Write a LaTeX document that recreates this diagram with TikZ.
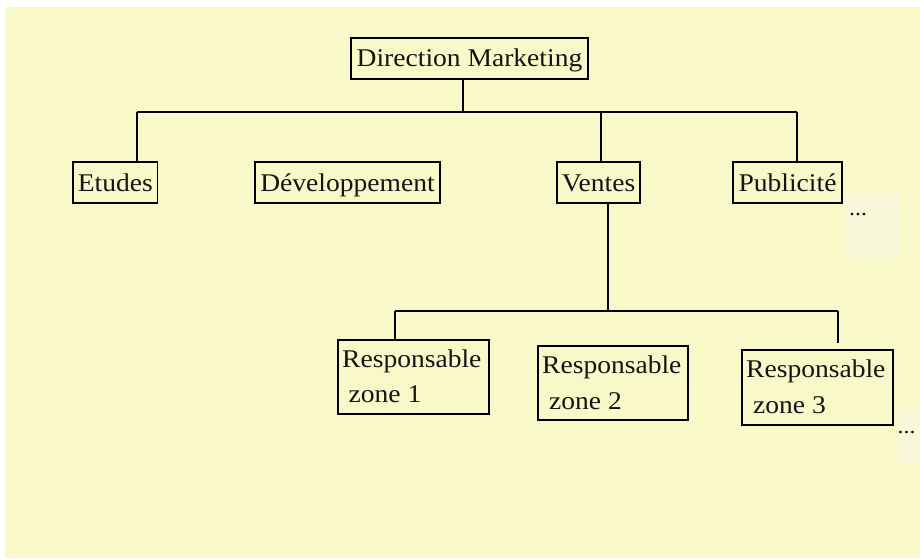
\documentclass[tikz,border=0pt]{standalone}
\usepackage{fontspec}
\setmainfont{Liberation Serif}[FakeStretch=1.08]
\usetikzlibrary{calc}
\definecolor{paper}{HTML}{F9F8C8}
\definecolor{patch}{HTML}{F7F7DA}
\definecolor{ink}{HTML}{141414}
\tikzset{
  unit/.style={draw=black, line width=1.8pt, inner sep=0pt, fill=none,
    text=ink, font=\fontsize{25.5}{30}\selectfont,
    text height=20pt, text depth=3pt},
  caption/.style={inner sep=0pt, text=ink, font=\fontsize{25.5}{30}\selectfont},
  etc/.style={inner sep=0pt, text=ink, font=\fontsize{22}{24}\selectfont},
  link/.style={draw=black, line width=1.8pt}
}
\begin{document}
\begin{tikzpicture}[x=1pt, y=-1pt]
  % page and yellow sheet
  \fill[white] (0,0) rectangle (920,558);
  \fill[paper] (5,7) rectangle (920,558);
  \useasboundingbox (0,0) rectangle (920,558);
  \fill[patch] (845,193) rectangle (900,258);
  \fill[patch] (897,410) rectangle (920,463);

  % head of the department
  \node[unit, minimum width=237pt, minimum height=41pt] (dm) at (469.5,58.2) {Direction Marketing};

  % first level
  \node[unit, minimum width=84.5pt, minimum height=41pt] (et) at (115.25,182.5) {Etudes};
  \node[unit, minimum width=185pt, minimum height=41pt] (dev) at (347.5,182.5) {Développement};
  \node[unit, minimum width=83pt, minimum height=41pt] (ve) at (598.5,182.5) {Ventes};
  \node[unit, minimum width=109pt, minimum height=41pt] (pu) at (787.5,182.5) {Publicité};
  \node[etc, anchor=base west] (more1) at (849,215.5) {...};

  % second level, under the sales unit
  \node[unit, minimum width=151pt, minimum height=74pt, anchor=north west] (z1) at (337,339) {};
  \node[unit, minimum width=150pt, minimum height=74pt, anchor=north west] (z2) at (537,345) {};
  \node[unit, minimum width=151pt, minimum height=75pt, anchor=north west] (z3) at (741,349) {};
  \node[caption, anchor=base west] (z1a) at ($(z1.north west)+(5,28.3)$) {Responsable};
  \node[caption, anchor=base west] (z1b) at ($(z1a.base west)+(6.5,35.6)$) {zone 1};
  \node[caption, anchor=base west] (z2a) at ($(z2.north west)+(5,28.3)$) {Responsable};
  \node[caption, anchor=base west] (z2b) at ($(z2a.base west)+(7,36)$) {zone 2};
  \node[caption, anchor=base west] (z3a) at ($(z3.north west)+(5,28.3)$) {Responsable};
  \node[caption, anchor=base west] (z3b) at ($(z3a.base west)+(7,36)$) {zone 3};
  \node[etc, anchor=base west] (more2) at (897.5,433.5) {...};

  % tree connectors, first level
  \coordinate (hub) at (463,112);
  \coordinate (busL) at (137,112);
  \coordinate (busR) at (797,112);
  \coordinate (busV) at (601,112);
  \draw[link] (dm.south -| hub) -- (hub);
  \draw[link] (busL) -- (busR);
  \draw[link] (busL) -- (busL |- et.north);
  \draw[link] (busV) -- (busV |- ve.north);
  \draw[link] (busR) -- (busR |- pu.north);

  % tree connectors, second level
  \coordinate (hub2) at (608,311);
  \coordinate (bus2L) at (395,311);
  \coordinate (bus2R) at (838,311);
  \coordinate (stub) at (838,343);
  \draw[link] (ve.south -| hub2) -- (hub2);
  \draw[link] (bus2L) -- (bus2R);
  \draw[link] (bus2L) -- (bus2L |- z1.north);
  \draw[link] (bus2R) -- (stub);
\end{tikzpicture}
\end{document}
